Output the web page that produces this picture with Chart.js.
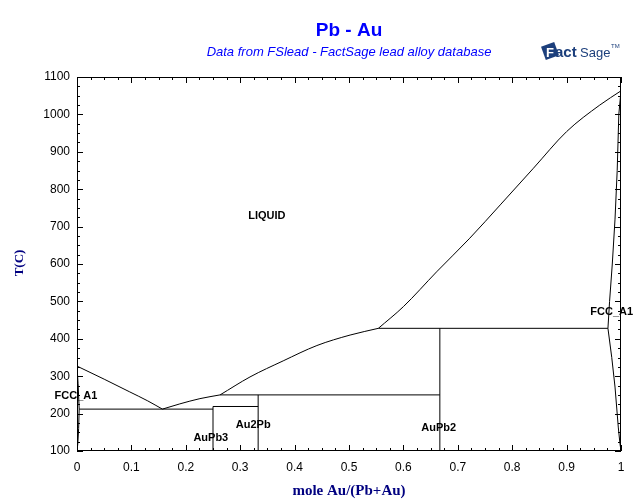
<!DOCTYPE html>
<html>
<head>
<meta charset="utf-8">
<script src="https://cdn.jsdelivr.net/npm/chart.js@4.4.0/dist/chart.umd.min.js"></script>
<style>
  body { margin: 0; background: #fff; }
  #wrap { width: 640px; height: 504px; }
</style>
</head>
<body>
<div id="wrap"><canvas id="phase" width="640" height="504"></canvas></div>
<script>
// Pb - Au phase diagram
// liquidus, split at the invariant points so the kinks stay sharp
const liqAX = [0, 0.05, 0.097, 0.13, 0.157];
const liqAT = [327, 292, 258, 234, 212];

const liqBX = [0.157, 0.189, 0.226, 0.263];
const liqBT = [212, 226, 240, 250];

const liqCX = [0.263, 0.318, 0.379, 0.441, 0.502, 0.554];
const liqCT = [250, 298, 341, 382, 410, 428];

const liqDX = [0.554, 0.600, 0.661, 0.722, 0.778, 0.839, 0.900, 0.961, 1.0];
const liqDT = [428, 486, 579, 669, 758, 856, 954, 1025, 1063];

const fccLeftX = [0, 0.002, 0.004, 0.004, 0.003, 0.0015, 0];
const fccLeftT = [327, 280, 212, 212, 160, 120, 100];

const fccRightX = [1.0, 0.996, 0.993, 0.989, 0.984, 0.979, 0.976, 0.983, 0.989, 0.995, 0.998, 1.0];
const fccRightT = [1063, 1000, 850, 720, 600, 500, 428, 350, 271, 164, 121, 100];

// invariant lines and compound lines: [x1, T1, x2, T2]
const tieLines = [
    [0.004, 212, 0.25, 212],
    [0.25, 219, 0.333, 219],
    [0.263, 250, 0.667, 250],
    [0.554, 428, 0.976, 428],
    [0.25, 100, 0.25, 219],
    [0.333, 100, 0.333, 250],
    [0.667, 100, 0.667, 428]
];

const regionLabels = ['LIQUID', 'FCC_A1', 'AuPb3', 'Au2Pb', 'AuPb2', 'FCC_A1'];
const labelX = [0.349, -0.002, 0.246, 0.324, 0.665, 0.983];
const labelT = [728, 247, 135, 170, 161, 472];

const xTicksMin = 0, xTicksMax = 1, xStep = 0.1;
const yTicksMin = 100, yTicksMax = 1100, yStep = 100;

function toPoints(xs, ts) {
    return xs.map((x, i) => ({ x: x, y: ts[i] }));
}

const lineStyle = { borderColor: '#000', borderWidth: 1, pointRadius: 0, showLine: true, fill: false, tension: 0 };
const curveStyle = Object.assign({}, lineStyle, { cubicInterpolationMode: 'monotone' });

const datasets = [
    Object.assign({ data: toPoints(liqAX, liqAT) }, curveStyle),
    Object.assign({ data: toPoints(liqBX, liqBT) }, curveStyle),
    Object.assign({ data: toPoints(liqCX, liqCT) }, curveStyle),
    Object.assign({ data: toPoints(liqDX, liqDT) }, curveStyle),
    Object.assign({ data: toPoints(fccLeftX, fccLeftT) }, lineStyle),
    Object.assign({ data: toPoints(fccRightX, fccRightT) }, lineStyle)
];
tieLines.forEach(l => {
    datasets.push(Object.assign({ data: [{ x: l[0], y: l[1] }, { x: l[2], y: l[3] }] }, lineStyle));
});

// frame, inner ticks, labels and titles
const decorPlugin = {
    id: 'decor',
    afterDraw(chart) {
        const ctx = chart.ctx;
        const a = chart.chartArea;
        const xs = chart.scales.x, ys = chart.scales.y;
        ctx.save();
        ctx.strokeStyle = '#000';
        ctx.lineWidth = 1;
        ctx.strokeRect(a.left + 0.5, a.top + 0.5, a.right - a.left - 1, a.bottom - a.top - 1);

        ctx.beginPath();
        for (let v = yTicksMin; v <= yTicksMax; v += 25) {
            const len = (v % 100 === 0) ? 6 : 3;
            const py = Math.round(ys.getPixelForValue(v)) + 0.5;
            ctx.moveTo(a.left, py); ctx.lineTo(a.left + len, py);
            ctx.moveTo(a.right, py); ctx.lineTo(a.right - len, py);
        }
        for (let i = 0; i <= 40; i++) {
            const v = i * 0.025;
            const len = (i % 4 === 0) ? 6 : 3;
            const px = Math.round(xs.getPixelForValue(v)) + 0.5;
            ctx.moveTo(px, a.bottom); ctx.lineTo(px, a.bottom - len);
            ctx.moveTo(px, a.top); ctx.lineTo(px, a.top + len);
        }
        ctx.stroke();

        // region labels
        ctx.fillStyle = '#000';
        ctx.font = 'bold 11px "Liberation Sans", Arial, sans-serif';
        ctx.textAlign = 'center';
        ctx.textBaseline = 'middle';
        regionLabels.forEach((t, i) => {
            ctx.fillText(t, xs.getPixelForValue(labelX[i]), ys.getPixelForValue(labelT[i]));
        });

        // titles
        const cx = (a.left + a.right) / 2;
        ctx.fillStyle = '#0000ff';
        ctx.font = 'bold 19px "Liberation Sans", Arial, sans-serif';
        ctx.fillText('Pb - Au', cx, 31);
        ctx.font = 'italic 13px "Liberation Sans", Arial, sans-serif';
        ctx.fillText('Data from FSlead - FactSage lead alloy database', cx, 52);

        // axis titles
        ctx.fillStyle = '#000080';
        ctx.font = 'bold 15px "Liberation Serif", "Times New Roman", serif';
        ctx.fillText('mole Au/(Pb+Au)', cx, 491);
        ctx.save();
        ctx.translate(20, 263);
        ctx.rotate(-Math.PI / 2);
        ctx.font = 'bold 13px "Liberation Serif", "Times New Roman", serif';
        ctx.fillText('T(C)', 0, 0);
        ctx.restore();

        // FactSage logo
        const logoBlue = '#1c3f7c';
        ctx.save();
        ctx.translate(550, 51);
        ctx.rotate(-0.35);
        ctx.fillStyle = logoBlue;
        ctx.fillRect(-7, -7, 14, 14);
        ctx.restore();
        ctx.fillStyle = '#fff';
        ctx.font = 'bold 13px "Liberation Sans", Arial, sans-serif';
        ctx.textAlign = 'left';
        ctx.textBaseline = 'alphabetic';
        ctx.fillText('F', 546, 57);
        ctx.fillStyle = logoBlue;
        ctx.font = 'bold 15px "Liberation Sans", Arial, sans-serif';
        ctx.fillText('act', 555, 57);
        ctx.font = '13px "Liberation Sans Narrow", "Liberation Sans", Arial, sans-serif';
        ctx.fillText('Sage', 580, 57);
        ctx.font = '6px "Liberation Sans", Arial, sans-serif';
        ctx.fillText('TM', 611, 48);
        ctx.restore();
    }
};

new Chart(document.getElementById('phase'), {
    type: 'scatter',
    data: { datasets: datasets },
    plugins: [decorPlugin],
    options: {
        responsive: false,
        animation: false,
        layout: { padding: { top: 77, right: 19, left: 0, bottom: 0 } },
        plugins: { legend: { display: false }, tooltip: { enabled: false } },
        scales: {
            x: {
                type: 'linear',
                min: xTicksMin, max: xTicksMax,
                grid: { display: false, drawTicks: false },
                border: { display: false },
                ticks: {
                    stepSize: xStep,
                    padding: 9,
                    color: '#000',
                    font: { family: '"Liberation Sans", Arial, sans-serif', size: 12 },
                    maxRotation: 0,
                    callback: v => String(Number(v.toFixed(1)))
                },
                afterFit: s => { s.height = 53; }
            },
            y: {
                type: 'linear',
                min: yTicksMin, max: yTicksMax,
                grid: { display: false, drawTicks: false },
                border: { display: false },
                ticks: {
                    stepSize: yStep,
                    padding: 7,
                    color: '#000',
                    font: { family: '"Liberation Sans", Arial, sans-serif', size: 12 },
                    callback: v => String(v)
                },
                afterFit: s => { s.width = 77; }
            }
        }
    }
});
</script>
</body>
</html>
